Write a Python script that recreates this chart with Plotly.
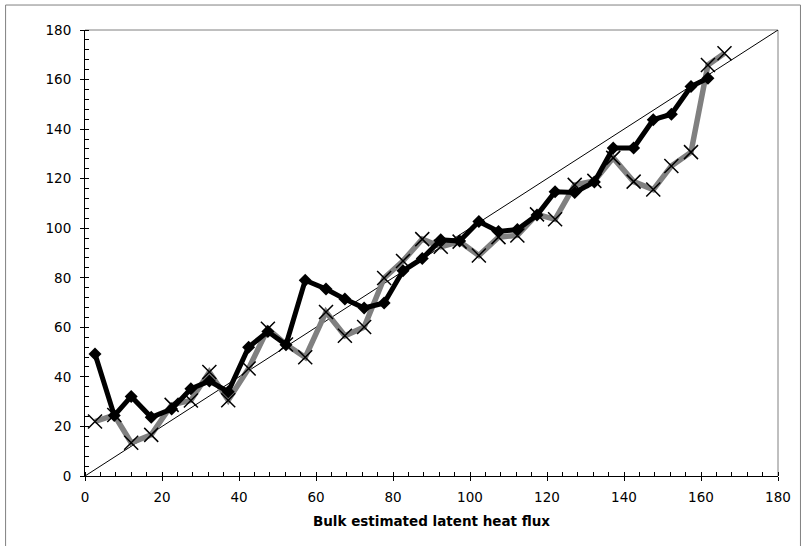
import plotly.graph_objects as go

# Bin centres of the bulk-estimated latent heat flux
bulk_x = [2.6, 7.6, 12.0, 17.2, 22.5, 27.5, 32.3, 37.2, 42.5, 47.5, 52.2,
          57.2, 62.6, 67.5, 72.5, 77.7, 82.6, 87.6, 92.4, 97.3, 102.3, 107.4,
          112.3, 117.4, 122.1, 127.2, 132.3, 137.2, 142.5, 147.6, 152.3,
          157.4, 161.8, 166.1]

# Series drawn as a thick black line with diamonds
series_a = [49.2, 24.4, 32.1, 23.7, 27.0, 35.2, 38.3, 34.0, 52.0, 58.3, 53.0,
            79.0, 75.5, 71.4, 67.8, 69.8, 82.8, 87.8, 95.3, 94.8, 102.7, 98.7,
            99.5, 105.3, 114.7, 114.4, 118.7, 132.4, 132.4, 143.8, 146.0,
            157.2, 160.5]

# Series drawn as a thick grey line with crosses
series_b = [22.0, 24.6, 13.4, 16.6, 28.7, 30.5, 42.0, 30.6, 43.4, 59.4, 53.1,
            47.9, 66.2, 56.6, 60.1, 79.9, 86.8, 95.6, 92.5, 94.6, 89.0, 96.4,
            97.1, 105.6, 103.6, 117.5, 119.1, 128.4, 118.8, 115.6, 125.1,
            130.7, 165.9, 170.6]

# 1:1 reference line
one_to_one = [0, 180]

axis_range = [0, 180]
tick_vals = list(range(0, 181, 20))
tick_text = [str(v) for v in tick_vals]

FONT = "DejaVu Sans"

fig = go.Figure()

fig.add_trace(go.Scatter(
    x=one_to_one, y=one_to_one, mode="lines",
    line=dict(color="black", width=1), hoverinfo="skip", showlegend=False))

fig.add_trace(go.Scatter(
    x=bulk_x[:len(series_b)], y=series_b, mode="lines",
    line=dict(color="#808080", width=5.5), showlegend=False))

fig.add_trace(go.Scatter(
    x=bulk_x[:len(series_a)], y=series_a, mode="lines+markers",
    line=dict(color="black", width=5),
    marker=dict(symbol="diamond", size=10, color="black"),
    showlegend=False))

fig.add_trace(go.Scatter(
    x=bulk_x[:len(series_b)], y=series_b, mode="markers",
    marker=dict(symbol="x-thin", size=14, color="black",
                line=dict(color="black", width=1.5)),
    showlegend=False))

axis_common = dict(
    range=axis_range, tickvals=tick_vals, ticktext=tick_text,
    showgrid=False, zeroline=False, showline=True, linecolor="black",
    linewidth=1, ticks="outside", ticklen=4, tickcolor="black",
    tickfont=dict(family=FONT, size=13.5, color="black"),
    minor=dict(ticks="inside", dtick=4, ticklen=4, tickcolor="black",
               showgrid=False),
    fixedrange=True,
)

fig.update_layout(
    width=803, height=546,
    margin=dict(l=84.5, r=24.5, t=30, b=70),
    paper_bgcolor="white", plot_bgcolor="white",
    xaxis=dict(**axis_common, ticklabelstandoff=5,
               title=dict(text="<b>Bulk estimated latent heat flux</b>",
                          font=dict(family=FONT, size=13.5, color="black"),
                          standoff=12)),
    yaxis=dict(**axis_common, ticklabelstandoff=6),
    # inner halves of the crossing major ticks
    xaxis2=dict(overlaying="x", anchor="y", range=axis_range,
                tickvals=tick_vals, ticks="inside", ticklen=4,
                tickcolor="black", showticklabels=False, showline=False,
                showgrid=False, zeroline=False, fixedrange=True),
    yaxis2=dict(overlaying="y", anchor="x", range=axis_range,
                tickvals=tick_vals, ticks="inside", ticklen=4,
                tickcolor="black", showticklabels=False, showline=False,
                showgrid=False, zeroline=False, fixedrange=True),
    shapes=[
        # grey frame on the top and right of the plot area
        dict(type="line", xref="paper", yref="paper", x0=0, x1=1, y0=1, y1=1,
             line=dict(color="#808080", width=1), layer="below"),
        dict(type="line", xref="paper", yref="paper", x0=1, x1=1, y0=0, y1=1,
             line=dict(color="#808080", width=1), layer="below"),
        # outer chart border
        dict(type="rect", xref="paper", yref="paper",
             x0=-0.1146, x1=1.0324, y0=-0.25, y1=1.056,
             line=dict(color="#808080", width=1), layer="below"),
    ],
)

# attach an invisible trace so the overlay axes are rendered
fig.add_trace(go.Scatter(x=[None], y=[None], xaxis="x2", yaxis="y2",
                         showlegend=False, hoverinfo="skip"))

fig.write_html("out.html")
